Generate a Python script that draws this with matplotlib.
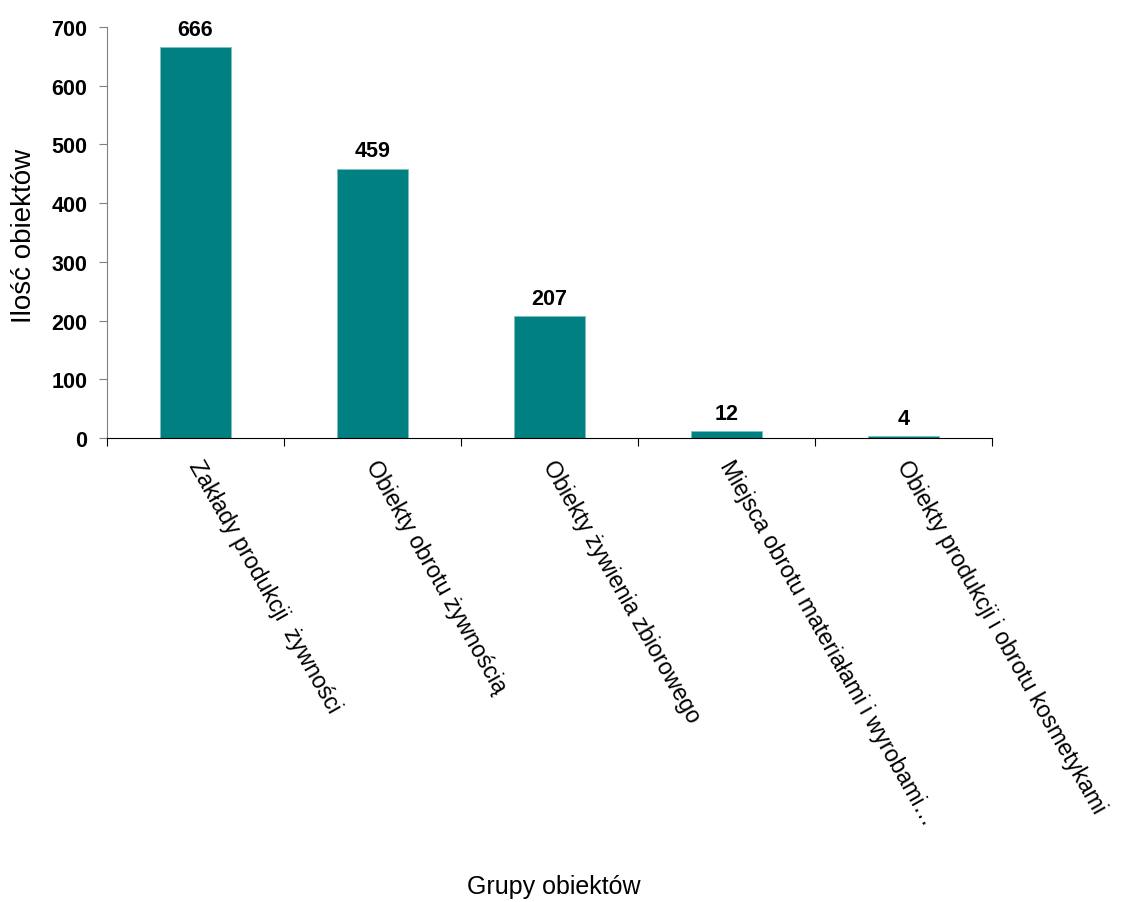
import matplotlib
matplotlib.use("Agg")
import matplotlib.pyplot as plt
import numpy as np

categories = ["Zakłady produkcji  żywności", "Obiekty obrotu żywnością",
              "Obiekty żywienia zbiorowego", "Miejsca obrotu materiałami i wyrobami…",
              "Obiekty produkcji i obrotu kosmetykami"]
values = [666, 459, 207, 12, 4]
yticks = [0, 100, 200, 300, 400, 500, 600, 700]

plt.rcParams['font.family'] = ['Liberation Sans', 'DejaVu Sans']

fig = plt.figure(figsize=(11.22, 9.03), dpi=100)
ax = fig.add_axes([107/1122, 1-439/903, (992-107)/1122, (439-28)/903])

x = np.arange(len(categories))
ax.bar(x, values, width=0.4, color='#008080', edgecolor='#7fbfbf', linewidth=0.6)
for xi, v in zip(x, values):
    ax.text(xi, v + 12, str(v), ha='center', va='bottom', fontsize=15.5, fontweight='bold')

ax.set_xlim(-0.5, len(categories) - 0.5)
ax.set_ylim(0, 700)
ax.set_yticks(yticks)
ax.set_yticklabels([str(t) for t in yticks], fontsize=15.5, fontweight='bold')
ax.tick_params(axis='y', direction='out', length=6, color='#808080', pad=8)

ax.set_xticks(np.arange(len(categories) + 1) - 0.5)
ax.set_xticklabels([])
ax.tick_params(axis='x', direction='out', length=6, color='black')
for xi, lab in zip(x, categories):
    ax.text(xi + 0.05, -30, lab, rotation=-60.5, rotation_mode='anchor', ha='left', va='top',
            fontsize=16.7, transform=ax.transData, clip_on=False)

for s in ['top', 'right']:
    ax.spines[s].set_visible(False)
ax.spines['left'].set_color('#808080')
ax.spines['bottom'].set_color('black')

fig.text(24/1122, 1-236/903, 'Ilość obiektów', rotation=90, ha='center', va='center', fontsize=20)
fig.text(554/1122, 1-887/903, 'Grupy obiektów', ha='center', va='center', fontsize=18)

fig.savefig('out.png', dpi=100)
